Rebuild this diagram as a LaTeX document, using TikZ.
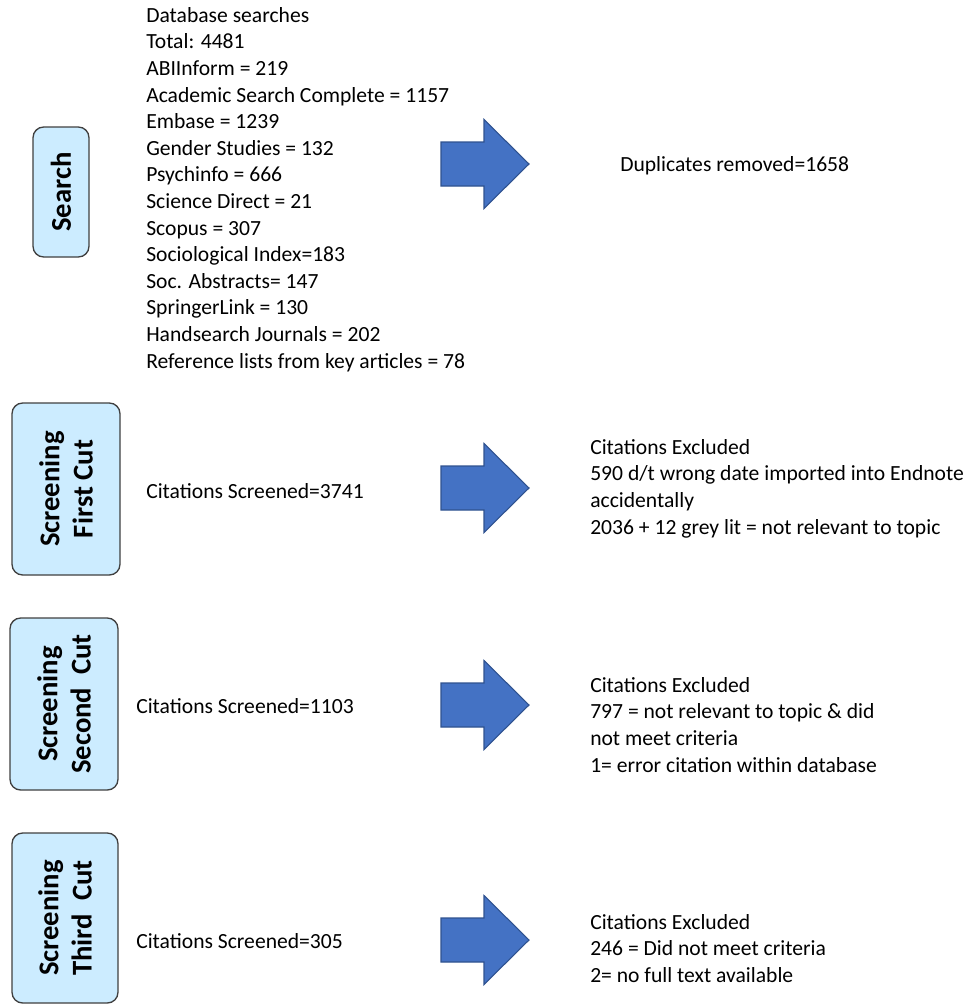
\documentclass[tikz,border=0pt]{standalone}
\usepackage{fontspec}
\setmainfont{Carlito}
\usetikzlibrary{positioning}
\definecolor{stagefill}{RGB}{204,236,255}
\definecolor{arrowblue}{RGB}{68,114,196}
\definecolor{arrowedge}{RGB}{47,82,143}
\tikzset{
    stage/.style={rectangle, rounded corners=8pt, draw=black!75, line width=1pt,
        fill=stagefill, rotate=90, align=center, inner sep=0pt,
        font=\bfseries\fontsize{21.5}{25}\selectfont},
    txt/.style={align=left, inner sep=0pt, font=\fontsize{16.2}{19.95}\selectfont},
    bigarrow/.pic={
        \filldraw[fill=arrowblue, draw=arrowedge, line width=.8pt]
            (0,-22) -- (43,-22) -- (43,-44.5) -- (88,0) -- (43,44.5) -- (43,22) -- (0,22) -- cycle;
    }
}

\begin{document}
\begin{tikzpicture}[x=0.75pt, y=-0.75pt]
        \useasboundingbox (0,0) rectangle (969,1006);
        % stages
        \node (search) [stage, minimum width=97.5pt, minimum height=42pt] at (61,192) {Search};
        \node (cut1) [stage, minimum width=129pt, minimum height=81pt] at (66,489) {Screening\\First Cut};
        \node (cut2) [stage, minimum width=129pt, minimum height=81pt] at (64,704) {Screening\\Second\ \ Cut};
        \node (cut3) [stage, minimum width=127.5pt, minimum height=79.5pt] at (65,918) {Screening\\Third\ \ Cut};
        % counts
        \node (dbsearch) [txt, anchor=north west] at (146,7) {Database searches\\
                Total: 4481\\
                ABIInform = 219\\
                Academic Search Complete = 1157\\
                Embase = 1239\\
                Gender Studies = 132\\
                Psychinfo = 666\\
                Science Direct = 21\\
                Scopus = 307\\
                Sociological Index=183\\
                Soc. Abstracts= 147\\
                SpringerLink = 130\\
                Handsearch Journals = 202\\
                Reference lists from key articles = 78};
        \node (scr1) [txt, anchor=west] at (146,491) {Citations Screened=3741};
        \node (scr2) [txt, anchor=west] at (136,706) {Citations Screened=1103};
        \node (scr3) [txt, anchor=west] at (136,941) {Citations Screened=305};
        % arrows
        \pic at (441,164) {bigarrow};
        \pic at (441,488) {bigarrow};
        \pic at (441,705) {bigarrow};
        \pic at (441,940) {bigarrow};
        % removed / excluded
        \node (dup) [txt, anchor=west] at (620,166) {Duplicates removed=1658};
        \node (excl1) [txt, anchor=north west] at (590,439) {Citations Excluded\\
                590 d/t wrong date imported into Endnote\\
                accidentally\\
                2036 + 12 grey lit = not relevant to topic};
        \node (excl2) [txt, anchor=north west] at (590,677) {Citations Excluded\\
                797 = not relevant to topic \& did\\
                not meet criteria\\
                1= error citation within database};
        \node (excl3) [txt, anchor=north west] at (590,914) {Citations Excluded\\
                246 = Did not meet criteria\\
                2= no full text available};
\end{tikzpicture}
\end{document}
